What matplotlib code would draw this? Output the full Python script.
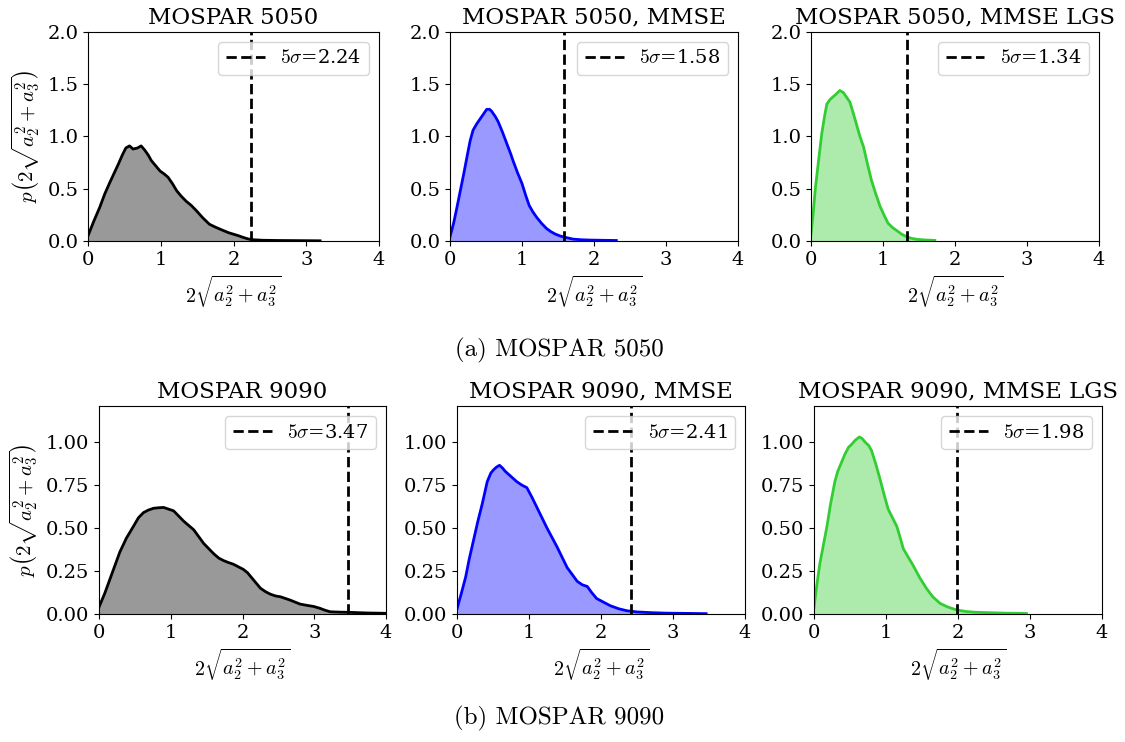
import matplotlib
matplotlib.use("Agg")
import matplotlib.pyplot as plt

plt.rcParams['font.family'] = 'DejaVu Serif'
plt.rcParams['mathtext.fontset'] = 'cm'

# ---- (a) MOSPAR 5050 ----
x_5050 = [0.0, 0.08, 0.16, 0.23, 0.30, 0.36, 0.42, 0.47, 0.52, 0.57, 0.62, 0.68, 0.73, 0.78, 0.83,
          0.87, 0.93, 0.99, 1.05, 1.10, 1.16, 1.22, 1.28, 1.35, 1.42, 1.49, 1.58, 1.67, 1.76, 1.86,
          1.93, 2.00, 2.07, 2.13, 2.20, 2.27, 2.40, 2.60, 2.80, 3.00, 3.19]
y_5050 = [0.05, 0.19, 0.32, 0.45, 0.56, 0.65, 0.74, 0.82, 0.89, 0.91, 0.88, 0.89, 0.91, 0.87, 0.82,
          0.77, 0.72, 0.67, 0.64, 0.61, 0.55, 0.48, 0.43, 0.38, 0.34, 0.29, 0.22, 0.16, 0.13, 0.10,
          0.08, 0.065, 0.05, 0.035, 0.02, 0.012, 0.007, 0.005, 0.004, 0.003, 0.002]

x_5050_mmse = [0.0, 0.05, 0.09, 0.14, 0.19, 0.24, 0.28, 0.32, 0.37, 0.42, 0.47, 0.51, 0.55, 0.58,
               0.63, 0.67, 0.73, 0.79, 0.84, 0.88, 0.94, 1.00, 1.05, 1.10, 1.15, 1.20, 1.27, 1.34,
               1.40, 1.46, 1.53, 1.60, 1.71, 1.82, 1.94, 2.10, 2.31]
y_5050_mmse = [0.04, 0.17, 0.30, 0.47, 0.64, 0.82, 0.96, 1.06, 1.12, 1.17, 1.22, 1.26, 1.26, 1.24,
               1.19, 1.14, 1.04, 0.93, 0.84, 0.76, 0.65, 0.55, 0.44, 0.34, 0.28, 0.23, 0.17, 0.12,
               0.09, 0.067, 0.048, 0.035, 0.018, 0.012, 0.009, 0.007, 0.005]

x_5050_lgs = [0.0, 0.03, 0.06, 0.10, 0.15, 0.19, 0.22, 0.26, 0.29, 0.34, 0.37, 0.40, 0.45, 0.49,
              0.54, 0.58, 0.63, 0.68, 0.73, 0.78, 0.84, 0.90, 0.96, 1.02, 1.07, 1.13, 1.19, 1.26,
              1.33, 1.40, 1.47, 1.58, 1.72]
y_5050_lgs = [0.07, 0.26, 0.50, 0.74, 1.03, 1.20, 1.31, 1.35, 1.37, 1.40, 1.42, 1.44, 1.42, 1.38,
              1.33, 1.24, 1.12, 1.00, 0.90, 0.75, 0.58, 0.45, 0.33, 0.24, 0.17, 0.13, 0.10, 0.065,
              0.04, 0.025, 0.016, 0.01, 0.006]

# ---- (b) MOSPAR 9090 ----
x_9090 = [0.0, 0.08, 0.15, 0.22, 0.29, 0.38, 0.48, 0.55, 0.62, 0.69, 0.76, 0.83, 0.90, 0.97, 1.04,
          1.11, 1.18, 1.25, 1.32, 1.39, 1.46, 1.53, 1.60, 1.67, 1.74, 1.80, 1.87, 1.94, 2.01, 2.07,
          2.13, 2.19, 2.25, 2.32, 2.39, 2.46, 2.53, 2.60, 2.67, 2.74, 2.80, 2.90, 2.99, 3.08, 3.15,
          3.22, 3.34, 3.46, 3.60, 3.73, 3.87, 4.0]
y_9090 = [0.04, 0.12, 0.20, 0.28, 0.36, 0.44, 0.51, 0.56, 0.59, 0.605, 0.615, 0.618, 0.62, 0.61,
          0.60, 0.57, 0.54, 0.515, 0.49, 0.45, 0.41, 0.38, 0.35, 0.325, 0.31, 0.30, 0.29, 0.275,
          0.26, 0.24, 0.21, 0.18, 0.15, 0.13, 0.115, 0.105, 0.10, 0.09, 0.08, 0.068, 0.058, 0.05,
          0.044, 0.033, 0.022, 0.013, 0.011, 0.010, 0.008, 0.006, 0.005, 0.004]

x_9090_mmse = [0.0, 0.06, 0.12, 0.17, 0.23, 0.29, 0.35, 0.42, 0.47, 0.51, 0.55, 0.59, 0.63, 0.67,
               0.75, 0.83, 0.90, 0.97, 1.04, 1.11, 1.18, 1.25, 1.32, 1.39, 1.46, 1.53, 1.60, 1.67,
               1.74, 1.81, 1.87, 1.94, 2.03, 2.13, 2.25, 2.36, 2.50, 2.69, 2.90, 3.10, 3.30, 3.46]
y_9090_mmse = [0.03, 0.12, 0.215, 0.32, 0.43, 0.54, 0.64, 0.77, 0.82, 0.84, 0.855, 0.865, 0.85, 0.83,
               0.80, 0.77, 0.75, 0.735, 0.68, 0.62, 0.56, 0.50, 0.445, 0.39, 0.33, 0.27, 0.23, 0.19,
               0.17, 0.16, 0.125, 0.09, 0.07, 0.048, 0.03, 0.019, 0.012, 0.008, 0.005, 0.004, 0.003,
               0.002]

x_9090_lgs = [0.0, 0.04, 0.08, 0.13, 0.18, 0.23, 0.29, 0.33, 0.38, 0.43, 0.48, 0.53, 0.57, 0.60,
              0.63, 0.67, 0.71, 0.76, 0.80, 0.86, 0.92, 0.97, 1.03, 1.09, 1.15, 1.20, 1.24, 1.31,
              1.38, 1.47, 1.56, 1.65, 1.75, 1.85, 1.94, 2.03, 2.12, 2.25, 2.40, 2.65, 2.95]
y_9090_lgs = [0.04, 0.17, 0.29, 0.40, 0.51, 0.64, 0.77, 0.83, 0.88, 0.93, 0.97, 0.99, 1.01, 1.02,
              1.03, 1.02, 1.00, 0.98, 0.95, 0.87, 0.78, 0.70, 0.61, 0.56, 0.51, 0.44, 0.38, 0.33,
              0.28, 0.21, 0.15, 0.10, 0.062, 0.042, 0.029, 0.02, 0.014, 0.01, 0.008, 0.005, 0.003]

titles_a = ["MOSPAR 5050", "MOSPAR 5050, MMSE", "MOSPAR 5050, MMSE LGS"]
titles_b = ["MOSPAR 9090", "MOSPAR 9090, MMSE", "MOSPAR 9090, MMSE LGS"]
sigma5_a = [2.24, 1.58, 1.34]
sigma5_b = [3.47, 2.41, 1.98]
colors = ["black", "blue", "limegreen"]

xlab = r'$2\sqrt{a_2^2+a_3^2}$'
ylab = r'$p\left(2\sqrt{a_2^2+a_3^2}\right)$'

fig = plt.figure(figsize=(11.25, 7.42), dpi=100)
W, H = 1125, 742


def add_ax(left, top, right, bottom):
    return fig.add_axes([left / W, 1 - bottom / H, (right - left) / W, (bottom - top) / H])


row_a = [add_ax(88, 32, 379, 241), add_ax(450, 32, 738, 241), add_ax(811, 32, 1099, 241)]
row_b = [add_ax(99, 406, 386, 614), add_ax(457, 406, 745, 614), add_ax(814, 406, 1102, 614)]

curves_a = [(x_5050, y_5050), (x_5050_mmse, y_5050_mmse), (x_5050_lgs, y_5050_lgs)]
curves_b = [(x_9090, y_9090), (x_9090_mmse, y_9090_mmse), (x_9090_lgs, y_9090_lgs)]

for axes, curves, titles, sig, ytop, yticks in [
        (row_a, curves_a, titles_a, sigma5_a, 2.0, [0.0, 0.5, 1.0, 1.5, 2.0]),
        (row_b, curves_b, titles_b, sigma5_b, 1.21, [0.0, 0.25, 0.5, 0.75, 1.0])]:
    for i, ax in enumerate(axes):
        xs, ys = curves[i]
        ax.fill_between(xs, ys, color=colors[i], alpha=0.4, lw=0)
        ax.plot(xs, ys, color=colors[i], lw=2)
        ax.axvline(sig[i], color="black", ls="--", lw=2, label=r'$5\sigma$=%.2f' % sig[i])
        ax.set_xlim(0, 4)
        ax.set_ylim(0, ytop)
        ax.set_yticks(yticks)
        if ytop < 1.5:
            ax.set_yticklabels(["%.2f" % v for v in yticks])
        else:
            ax.set_yticklabels(["%.1f" % v for v in yticks])
        ax.set_xticks([0, 1, 2, 3, 4])
        ax.tick_params(labelsize=14)
        ax.set_title(titles[i], fontsize=16.5)
        ax.set_xlabel(xlab, fontsize=14.5)
        if i == 0:
            ax.set_ylabel(ylab, fontsize=15)
        ax.legend(loc="upper right", fontsize=14)

fig.text(0.497, 1 - 350 / H, "(a) MOSPAR 5050", ha="center", va="center", family="cmr10", fontsize=18)
fig.text(0.497, 1 - 718 / H, "(b) MOSPAR 9090", ha="center", va="center", family="cmr10", fontsize=18)

fig.savefig("out.png", dpi=100)
